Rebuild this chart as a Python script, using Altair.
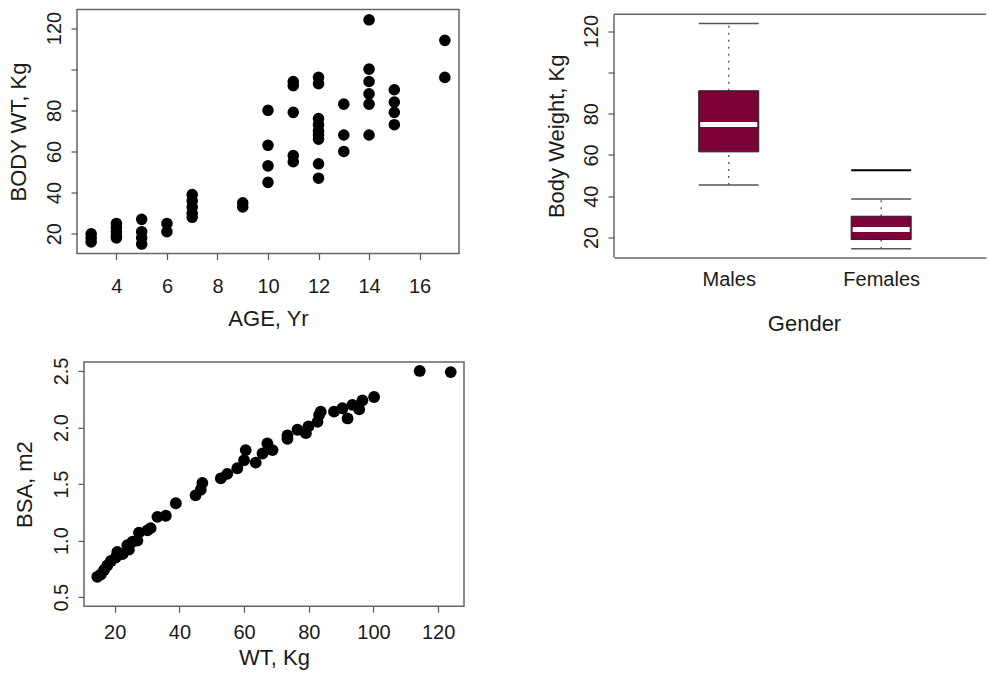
import altair as alt
import pandas as pd

# ---- Panel 1: body weight vs age ----
age = [3, 3, 3,
       4, 4, 4, 4, 4,
       5, 5, 5, 5,
       6, 6,
       7, 7, 7, 7, 7,
       9, 9,
       10, 10, 10, 10,
       11, 11, 11, 11, 11,
       12, 12, 12, 12, 12, 12, 12, 12, 12,
       13, 13, 13,
       14, 14, 14, 14, 14, 14,
       15, 15, 15, 15,
       17, 17]
body_wt = [20, 18, 16,
           25, 23, 21, 19, 18,
           27, 21, 18, 15,
           25, 21,
           39, 36, 33, 30, 28,
           35, 33,
           80, 63, 53, 45,
           94, 92, 79, 58, 55,
           96, 93, 76, 73, 70, 68, 66, 54, 47,
           83, 68, 60,
           124, 100, 94, 88, 83, 68,
           90, 84, 79, 73,
           114, 96]

# ---- Panel 2: box plot by gender ----
genders = ["Males", "Females"]
gender_pos = [1, 2]
box_low = [45.4, 14.6]
box_q1 = [61.5, 19.0]
box_med = [74.8, 23.9]
box_q3 = [91.1, 30.3]
box_high = [123.7, 38.6]
outlier_pos = [2]
outlier_wt = [52.6]

# ---- Panel 3: BSA vs weight ----
wt_kg = [14.6, 15.7, 16.7, 17.7, 18.8, 20.3, 20.8, 22.4, 23.9, 24.4, 25.5, 27.0,
         27.5, 30.1, 31.1, 33.2, 35.8, 38.9, 45.0, 46.6, 47.1, 52.8, 54.8, 57.9,
         60.0, 60.5, 63.6, 65.7, 67.2, 67.7, 68.8, 73.4, 73.4, 76.5, 79.1, 79.9,
         82.7, 83.2, 83.7, 87.8, 90.4, 92.0, 93.5, 95.6, 96.6, 100.2, 114.3, 123.9]
bsa_m2 = [0.68, 0.70, 0.74, 0.78, 0.82, 0.85, 0.90, 0.88, 0.96, 0.92, 0.99, 1.00,
          1.07, 1.09, 1.11, 1.21, 1.22, 1.33, 1.40, 1.45, 1.51, 1.55, 1.59, 1.64,
          1.71, 1.80, 1.69, 1.77, 1.86, 1.81, 1.80, 1.90, 1.93, 1.98, 1.95, 2.01,
          2.05, 2.11, 2.14, 2.14, 2.17, 2.08, 2.20, 2.16, 2.24, 2.27, 2.50, 2.49]

age_ticks = [4, 6, 8, 10, 12, 14, 16]
wt_ticks = [20, 40, 60, 80, 100, 120]
bsa_ticks = [0.5, 1.0, 1.5, 2.0, 2.5]

FONT = "Liberation Sans"
FRAME = "#666666"
BOX_FILL = "#7e0038"

# panel sizes (plot areas)
W1, H1 = 382, 244
W2, H2 = 372, 248      # p2 frame starts TOP2 px below the top of its cell
TOP2 = 4.7
W3, H3 = 387, 244.3    # p3 frame starts LEFT3 px right of the cell edge
LEFT3 = 7

hide100 = "datum.value == 100 ? '' : datum.label"
one = pd.DataFrame({"k": [0]})


def y_axis(title, values, title_y, label_expr=None, fmt=None, title_x=-52, offset=0):
    kw = dict(values=values, title=title, labelAngle=270, labelAlign="center",
              labelBaseline="alphabetic", labelPadding=10.5, tickSize=6,
              labelOverlap=False, labelFlush=False, titleAngle=270,
              titleAlign="center", titleBaseline="alphabetic",
              titleX=title_x, titleY=title_y, grid=False, domain=False)
    if label_expr:
        kw["labelExpr"] = label_expr
    if fmt:
        kw["format"] = fmt
    if offset:
        kw["offset"] = offset
    return alt.Axis(**kw)


def x_axis(title, values, title_x, label_pad, title_y):
    return alt.Axis(values=values, title=title, tickSize=6, labelPadding=label_pad,
                    labelBaseline="alphabetic", labelOverlap=False, labelFlush=False,
                    titleBaseline="alphabetic", titleX=title_x, titleY=title_y,
                    grid=False, domain=False)


# ---------------- Panel 1 ----------------
df1 = pd.DataFrame({"age": age, "wt": body_wt})
p1 = alt.Chart(df1).mark_circle(size=135, color="black", opacity=1).encode(
    x=alt.X("age:Q", scale=alt.Scale(domain=[2.44, 17.56], nice=False, zero=False),
            axis=x_axis("AGE, Yr", age_ticks, W1 / 2, 32.7, 71.7)),
    y=alt.Y("wt:Q", scale=alt.Scale(domain=[10.4, 129.0], nice=False, zero=False),
            axis=y_axis("BODY WT, Kg", wt_ticks, H1 / 2, hide100)),
).properties(width=W1, height=H1)

# ---------------- Panel 2 ----------------
dfb = pd.DataFrame({"pos": gender_pos, "gender": genders, "low": box_low, "q1": box_q1,
                    "med": box_med, "q3": box_q3, "high": box_high})
dfo = pd.DataFrame({"pos": outlier_pos, "wt": outlier_wt})
label_expr_g = "[" + ",".join("'%s'" % g for g in genders) + "][datum.value - 1]"

xs = alt.Scale(domain=[0.28, 2.655], nice=False, zero=False)
ys = alt.Scale(domain=[10.3, 130.48], nice=False, zero=False)
x_box_axis = alt.Axis(values=gender_pos, labelExpr=label_expr_g, title="Gender",
                      tickSize=0, tickOpacity=0, labelPadding=27.7,
                      labelBaseline="alphabetic", labelFlush=False, labelOverlap=False,
                      titleBaseline="alphabetic", titleX=190, titleY=72.7,
                      grid=False, domain=True, domainColor=FRAME, domainWidth=1.5)
y_box_axis = alt.Axis(values=wt_ticks, labelExpr=hide100, title="Body Weight, Kg",
                      labelAngle=270, labelAlign="center", labelBaseline="alphabetic",
                      labelPadding=10.5, tickSize=6, labelOverlap=False, labelFlush=False,
                      titleAngle=270, titleAlign="center", titleBaseline="alphabetic",
                      titleX=-51, titleY=(TOP2 + H2) / 2, grid=False, domain=False)

base_b = alt.Chart(dfb)
whisk_up = base_b.mark_rule(color="#555555", strokeWidth=1.3, strokeDash=[2, 5]).encode(
    x=alt.X("pos:Q", scale=xs, axis=x_box_axis),
    y=alt.Y("q3:Q", scale=ys, axis=y_box_axis), y2="high:Q")
whisk_dn = base_b.mark_rule(color="#555555", strokeWidth=1.3, strokeDash=[2, 5]).encode(
    x=alt.X("pos:Q", scale=xs), y=alt.Y("low:Q", scale=ys), y2="q1:Q")
cap_hi = base_b.mark_tick(orient="horizontal", size=60, thickness=1.5, color="#555555",
                          opacity=1).encode(
    x=alt.X("pos:Q", scale=xs), y=alt.Y("high:Q", scale=ys))
cap_lo = base_b.mark_tick(orient="horizontal", size=60, thickness=1.5, color="#555555",
                          opacity=1).encode(
    x=alt.X("pos:Q", scale=xs), y=alt.Y("low:Q", scale=ys))
boxes = base_b.mark_bar(size=60, orient="vertical", color=BOX_FILL, stroke="#222222",
                        strokeWidth=1, opacity=1).encode(
    x=alt.X("pos:Q", scale=xs), y=alt.Y("q1:Q", scale=ys), y2="q3:Q")
medians = base_b.mark_tick(orient="horizontal", size=57, thickness=5, color="white",
                           opacity=1).encode(
    x=alt.X("pos:Q", scale=xs), y=alt.Y("med:Q", scale=ys))
outl = alt.Chart(dfo).mark_tick(orient="horizontal", size=60, thickness=2, color="black",
                                opacity=1).encode(
    x=alt.X("pos:Q", scale=xs), y=alt.Y("wt:Q", scale=ys))
top_rule = alt.Chart(one).mark_rule(color=FRAME, strokeWidth=1.5).encode(
    x=alt.value(0), x2=alt.value(W2), y=alt.value(TOP2))
left_rule = alt.Chart(one).mark_rule(color=FRAME, strokeWidth=1.5).encode(
    x=alt.value(0), y=alt.value(TOP2), y2=alt.value(H2))

p2 = alt.layer(whisk_up, whisk_dn, cap_hi, cap_lo, boxes, medians, outl,
               top_rule, left_rule).properties(
    width=W2, height=H2, view=alt.ViewBackground(stroke="transparent"))

# ---------------- Panel 3 ----------------
df3 = pd.DataFrame({"wt": wt_kg, "bsa": bsa_m2})
pts3 = alt.Chart(df3).mark_circle(size=140, color="black", opacity=1).encode(
    x=alt.X("wt:Q", scale=alt.Scale(domain=[8.336, 128.0], nice=False, zero=False),
            axis=x_axis("WT, Kg", wt_ticks, LEFT3 + (W3 - LEFT3) / 2, 26.3, 58)),
    y=alt.Y("bsa:Q", scale=alt.Scale(domain=[0.42, 2.58], nice=False, zero=False),
            axis=y_axis("BSA, m2", bsa_ticks, H3 / 2, fmt=".1f", title_x=-52.5,
                        offset=-LEFT3)),
)
frame3 = alt.Chart(one).mark_rect(fill="transparent", stroke=FRAME, strokeWidth=1.5).encode(
    x=alt.value(LEFT3), x2=alt.value(W3), y=alt.value(0), y2=alt.value(H3))
p3 = alt.layer(pts3, frame3).properties(
    width=W3, height=H3, view=alt.ViewBackground(stroke="transparent"))

chart = alt.concat(p1, p2, p3, columns=2, bounds="flush", align="all",
                   spacing={"row": 104.4, "column": 150}).properties(
    padding={"left": 6, "top": 8.5, "right": 0, "bottom": 5},
    background="white",
).configure_view(
    stroke=FRAME, strokeWidth=1.5
).configure_axis(
    labelFont=FONT, titleFont=FONT, labelFontSize=20, titleFontSize=22,
    labelColor="#1a1a1a", titleColor="#1a1a1a", titleFontWeight="normal",
    tickColor="#555555", tickWidth=1.2
)

chart.save("out.html", embed_options={"renderer": "svg", "actions": False})
